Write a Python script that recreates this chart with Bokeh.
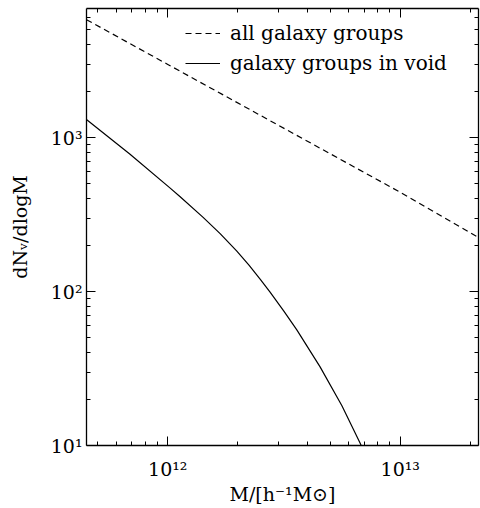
from bokeh.plotting import figure
from bokeh.models import LogAxis, FixedTicker, Legend, LegendItem
from bokeh.embed import file_html
from bokeh.resources import INLINE

# ---- data ----
mass_all = [4.47e11, 1.0e12, 1.0e13, 2.17e13]
n_all = [5830, 2985, 441, 224]

mass_void = [4.467e11, 6.86e11, 1.021e12, 1.127e12, 1.419e12, 1.679e12, 1.977e12,
             2.239e12, 2.495e12, 2.754e12, 3.162e12, 3.589e12, 4.519e12, 5.61e12,
             6.73e12, 7.244e12]
n_void = [1309, 783, 471, 414, 303, 237.7, 183.6, 147.7, 120.5, 99.1, 74.3, 56.3,
          32.4, 18.1, 10.3, 7.96]

x_major = [1e12, 1e13]
x_labels = ["10¹²", "10¹³"]
x_minor = [5e11, 6e11, 7e11, 8e11, 9e11,
           2e12, 3e12, 4e12, 5e12, 6e12, 7e12, 8e12, 9e12, 2e13]
y_major = [10, 100, 1000]
y_labels = ["10¹", "10²", "10³"]
y_minor = [20, 30, 40, 50, 60, 70, 80, 90,
           200, 300, 400, 500, 600, 700, 800, 900,
           2000, 3000, 4000, 5000, 6000]

legend_labels = ["all galaxy groups", "galaxy groups in void"]
x_title = "M/[h⁻¹M⊙]"
y_title = "dNᵥ/dlogM"

FONT = "DejaVu Serif"

p = figure(width=480, height=508, x_axis_type="log", y_axis_type="log",
           x_range=(4.47e11, 2.17e13), y_range=(10, 6890),
           output_backend="svg", toolbar_location=None,
           min_border_left=86, min_border_right=2, min_border_top=8,
           min_border_bottom=63)
p.outline_line_color = None
p.xgrid.visible = False
p.ygrid.visible = False
p.background_fill_color = "white"
p.border_fill_color = "white"

r_all = p.line(mass_all, n_all, line_color="black", line_width=1.2, line_dash="6 4")
r_void = p.line(mass_void, n_void, line_color="black", line_width=1.2,
                line_join="round")

xt = FixedTicker(ticks=x_major, minor_ticks=x_minor)
yt = FixedTicker(ticks=y_major, minor_ticks=y_minor)


def style(ax, ticker, labels, majors):
    ax.ticker = ticker
    ax.axis_line_color = "black"
    ax.axis_line_width = 1.3
    ax.major_tick_in = 9
    ax.major_tick_out = 0
    ax.minor_tick_in = 4
    ax.minor_tick_out = 0
    ax.major_tick_line_color = "black"
    ax.minor_tick_line_color = "black"
    ax.major_tick_line_width = 1
    ax.minor_tick_line_width = 1
    ax.major_label_text_font = FONT
    ax.major_label_text_font_size = "19px"
    ax.major_label_text_color = "black"
    ax.axis_label_text_font = FONT
    ax.axis_label_text_font_size = "19px"
    ax.axis_label_text_font_style = "normal"
    ax.axis_label_text_color = "black"
    ax.major_label_overrides = {float(v): s for v, s in zip(majors, labels)}


xa = p.xaxis[0]
ya = p.yaxis[0]
style(xa, xt, x_labels, x_major)
style(ya, yt, y_labels, y_major)
xa.axis_label = x_title
ya.axis_label = y_title
xa.major_label_standoff = 12
xa.axis_label_standoff = 0
ya.major_label_standoff = 4
ya.axis_label_standoff = 17

# tick-only frame axes on top and right
top = LogAxis()
right = LogAxis()
style(top, FixedTicker(ticks=x_major, minor_ticks=x_minor), [""] * len(x_major), x_major)
style(right, FixedTicker(ticks=y_major, minor_ticks=y_minor), [""] * len(y_major), y_major)
for ax in (top, right):
    ax.major_label_text_font_size = "1px"
    ax.major_label_standoff = 0
p.add_layout(top, "above")
p.add_layout(right, "right")

legend = Legend(items=[LegendItem(label=legend_labels[0], renderers=[r_all]),
                       LegendItem(label=legend_labels[1], renderers=[r_void])],
                location=(99, 370), glyph_width=35, glyph_height=22,
                label_standoff=10, spacing=6, padding=0, margin=0,
                label_height=22,
                border_line_color=None, background_fill_alpha=0,
                label_text_font=FONT, label_text_font_size="20px",
                label_text_color="black")
p.add_layout(legend)

open("out.html", "w").write(file_html(p, INLINE))
